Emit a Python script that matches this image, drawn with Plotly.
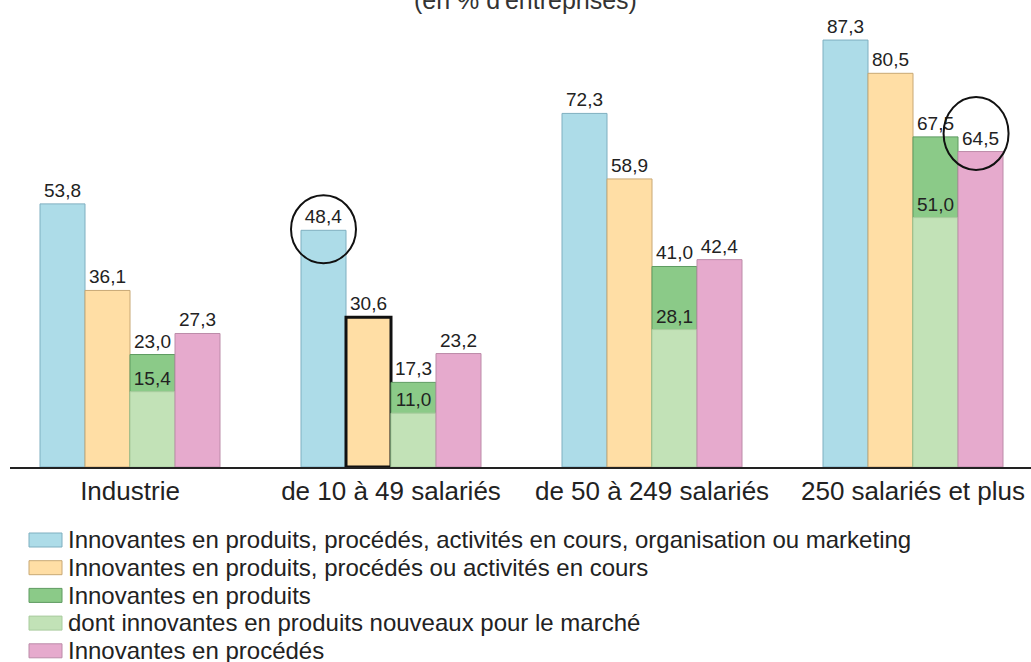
import plotly.graph_objects as go

# ---- data ----
categories = ["Industrie", "de 10 à 49 salariés", "de 50 à 249 salariés", "250 salariés et plus"]
v_all = [53.8, 48.4, 72.3, 87.3]          # produits, procédés, activités en cours, organisation ou marketing
v_proc_act = [36.1, 30.6, 58.9, 80.5]     # produits, procédés ou activités en cours
v_prod = [23.0, 17.3, 41.0, 67.5]         # produits
v_prod_new = [15.4, 11.0, 28.1, 51.0]     # dont produits nouveaux pour le marché
v_proc = [27.3, 23.2, 42.4, 64.5]         # procédés
names = [
    "Innovantes en produits, procédés, activités en cours, organisation ou marketing",
    "Innovantes en produits, procédés ou activités en cours",
    "Innovantes en produits",
    "dont innovantes en produits nouveaux pour le marché",
    "Innovantes en procédés",
]
title_text = "(en % d'entreprises)"

# ---- style ----
FONT = "Liberation Sans, Arial, sans-serif"
fills = ["#ADDCE8", "#FFDEA5", "#8BCA88", "#C2E2B7", "#E6AACD"]
borders = ["#7FAFC0", "#C8A874", "#5E9B61", "#A9CC9E", "#BC8BA8"]
W = 45 / 261
offsets = [-2 * W, -W, 0, 0, W]
series = [v_all, v_proc_act, v_prod, v_prod_new, v_proc]
xpos = list(range(len(categories)))

# layout geometry (pixels)
L, R, T, B = 10, 0, 20, 195
FW, FH = 1031, 662
PW, PH = FW - L - R, FH - T - B
YMAX = 91.4

def px_to_paper_x(px):
    return (px - L) / PW

def py_to_paper_y(py):
    return (FH - B - py) / PH

fig = go.Figure()
for i, vals in enumerate(series):
    lw = [1] * len(vals)
    lc = [borders[i]] * len(vals)
    if i == 1:  # highlighted bar (de 10 à 49 salariés)
        lw[1] = 3
        lc[1] = "#111111"
    fig.add_trace(go.Bar(
        x=xpos, y=vals, name=names[i],
        width=W, offset=offsets[i],
        marker=dict(color=fills[i], line=dict(color=lc, width=lw)),
        texttemplate="%{y:.1f}", textposition="outside",
        textfont=dict(family=FONT, size=19, color="#222222"),
        cliponaxis=False, showlegend=False, hoverinfo="skip",
    ))

# circles highlighting two values
shapes = []
cx1 = xpos[1] + offsets[0] + W / 2
shapes.append(dict(type="circle", xref="x", yref="y",
                   x0=cx1 - 0.1245, x1=cx1 + 0.1245,
                   y0=v_all[1] + 0.2 - 6.95, y1=v_all[1] + 0.2 + 6.95,
                   line=dict(color="#111111", width=2)))
cx2 = xpos[3] + offsets[4] + W / 2 - 0.017
shapes.append(dict(type="circle", xref="x", yref="y",
                   x0=cx2 - 0.1245, x1=cx2 + 0.1245,
                   y0=v_proc[3] + 3.7 - 7.46, y1=v_proc[3] + 3.7 + 7.46,
                   line=dict(color="#111111", width=2)))

# manual legend
annotations = []
LEG_FS = 24
for i, name in enumerate(names):
    top = 533 + i * 27.7
    shapes.append(dict(type="rect", xref="paper", yref="paper",
                       x0=px_to_paper_x(29), x1=px_to_paper_x(62),
                       y0=py_to_paper_y(top + 14), y1=py_to_paper_y(top),
                       fillcolor=fills[i], line=dict(color=borders[i], width=1)))
    base = 548 + i * 27.7
    annotations.append(dict(text=name, xref="paper", yref="paper",
                            x=px_to_paper_x(66), y=py_to_paper_y(base - 0.3465 * LEG_FS),
                            xanchor="left", yanchor="middle", showarrow=False,
                            font=dict(family=FONT, size=LEG_FS, color="#222222")))

annotations.append(dict(text=title_text, xref="paper", yref="paper",
                        x=px_to_paper_x(525), y=py_to_paper_y(16),
                        xanchor="center", yanchor="bottom", showarrow=False,
                        font=dict(family=FONT, size=25, color="#333333")))

fig.update_layout(
    width=FW, height=FH,
    margin=dict(l=L, r=R, t=T, b=B),
    barmode="overlay",
    separators=", ",
    plot_bgcolor="white", paper_bgcolor="white",
    shapes=shapes, annotations=annotations,
    hovermode=False,
    xaxis=dict(range=[-(130 - L) / 261, 3 + (FW - 913) / 261],
               tickvals=xpos, ticktext=categories,
               showline=True, linecolor="#222222", linewidth=2,
               showgrid=False, zeroline=False, ticks="",
               tickfont=dict(family=FONT, size=26, color="#222222")),
    yaxis=dict(range=[0, YMAX], visible=False, showgrid=False, zeroline=False),
)

fig.write_html("out.html",
               config={"displayModeBar": False},
               post_script="document.body.style.margin='0';document.body.style.overflow='hidden';")
